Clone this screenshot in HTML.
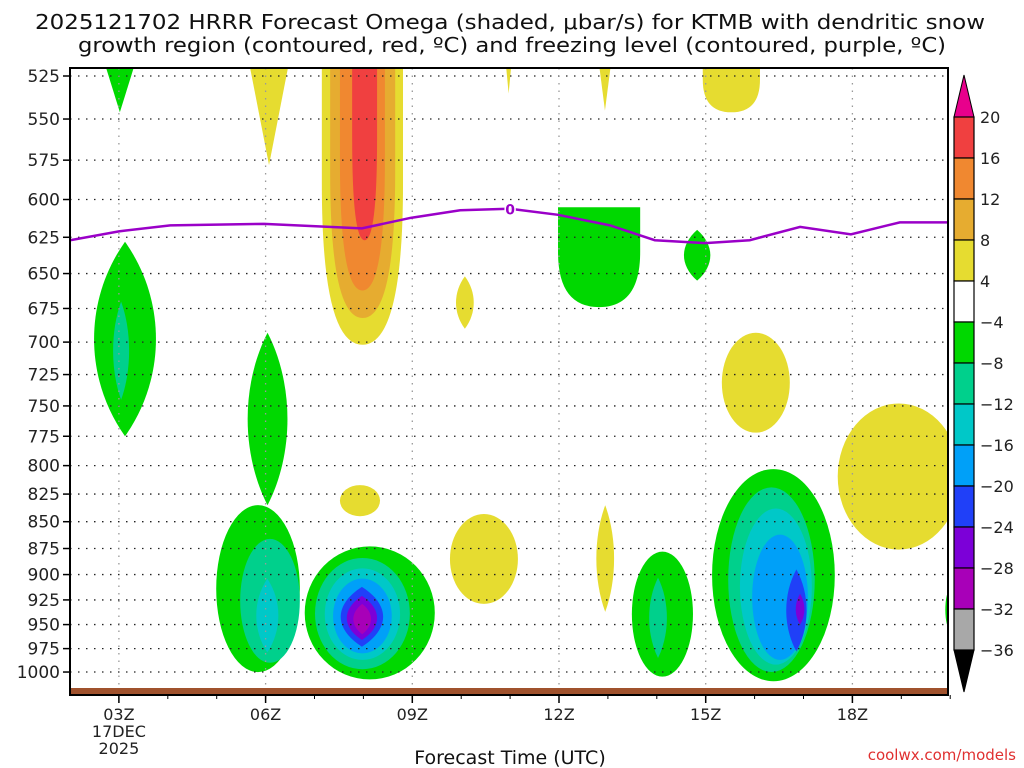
<!DOCTYPE html>
<html><head><meta charset="utf-8"><style>
html,body{margin:0;padding:0;background:#fff;}
svg{display:block;font-family:"DejaVu Sans","Liberation Sans",sans-serif;}
</style></head><body>
<svg id="chart" width="1024" height="768" viewBox="0 0 1024 768">
<text x="510" y="29" text-anchor="middle" font-size="20" fill="#111" textLength="950" lengthAdjust="spacingAndGlyphs">2025121702 HRRR Forecast Omega (shaded, μbar/s) for KTMB with dendritic snow</text>
<text x="512" y="52" text-anchor="middle" font-size="20" fill="#111" textLength="868" lengthAdjust="spacingAndGlyphs">growth region (contoured, red, ºC) and freezing level (contoured, purple, ºC)</text>
<defs><clipPath id="pc"><rect x="70" y="68" width="878" height="627"/></clipPath></defs>
<g id="fills" clip-path="url(#pc)"></g>
<g id="grid"></g>
<g id="frz" clip-path="url(#pc)"></g>
<rect x="70" y="688" width="878" height="7" fill="#a0522d"/>
<rect x="70" y="68" width="878" height="627" fill="none" stroke="#000" stroke-width="2"/>
<g id="axes"></g>
<g id="cbar"></g>
<text x="510" y="764" text-anchor="middle" font-size="19" fill="#111">Forecast Time (UTC)</text>
<text x="1016" y="760" text-anchor="end" font-size="15" fill="#e03030">coolwx.com/models</text>
</svg>
<script>
const levels=[20,16,12,8,4,-4,-8,-12,-16,-20,-24,-28,-32,-36];
const levelColors=['#f04040','#f08830','#e6ac30','#e6dc30','#ffffff','#00d800','#00d08c','#00c8c8','#00a0f8','#2040f8','#7c00d8','#a800b8','#a8a8a8'];
const pLevels=[525,550,575,600,625,650,675,700,725,750,775,800,825,850,875,900,925,950,975,1000];
const hourTicks=[3,6,9,12,15,18];
const hourLabels=['03Z','06Z','09Z','12Z','15Z','18Z'];
// freezing level line
const frzHours=[2,3,4.05,5.97,7.97,8.97,9.98,11,11.98,13.04,13.96,14.99,15.9,16.93,17.97,18.97,19.95];
const frzPres=[627,621,617,616,619,612,607,606,610,617,627,629,627,618,623,615,615];
// blobs
const blobT0=[2.67,5.64,7.15,7.32,7.52,7.77,10.9,12.8,14.94,2.41,2.86,5.58,9.87,11.98,14.52,15.33,17.7,7.52,9.77,12.74,4.99,5.48,5.78,6.8,7.01,7.21,7.38,7.48,7.62,7.77,13.49,13.82,15.13,15.46,15.7,15.95,16.62,16.83,19.9];
const blobT1=[3.37,6.5,8.81,8.65,8.44,8.28,11.04,13.08,16.11,3.84,3.23,6.5,10.28,13.66,15.13,16.72,20.2,8.34,11.16,13.15,6.7,6.7,6.29,9.46,8.95,8.75,8.58,8.46,8.32,8.18,14.74,14.23,17.64,17.23,17.17,17.09,17.09,17.03,20.1];
const blobPTop=[520,520,512,512,512,512,520,520,512,628,670,693,652,605,620,693,748,817,843,835,835,866,904,873,884,894,904,912,921,929,878,903,803,819,838,862,895,919,915];
const blobPBot=[546,578,702,682,662,627,535,545,546,775,745,835,690,674,655,772,876,845,929,937,1000,990,979,1008,997,987,980,973,966,960,1005,985,1010,1000,992,987,978,950,955];
const blobLevel=[5,3,3,2,1,0,3,3,3,5,6,5,3,5,5,3,3,3,3,3,5,6,7,5,6,7,8,9,10,11,5,6,5,6,7,8,9,10,5];
const blobShape=['v','v','u','u','u','u','v','v','u','l','l','l','l','u','l','e','e','e','e','l','e','e','l','e','e','e','e','l','l','l','e','l','e','e','e','e','l','l','e'];

const X=h=>70+(h-2)*48.9;
const Y=p=>76+925*Math.log(p/525);
const NS='http://www.w3.org/2000/svg';
function mk(tag,attrs,parent){const e=document.createElementNS(NS,tag);for(const k in attrs)e.setAttribute(k,attrs[k]);parent.appendChild(e);return e;}
const fills=document.getElementById('fills');
for(let i=0;i<blobT0.length;i++){
 const l=X(blobT0[i]),r=X(blobT1[i]),t=Y(blobPTop[i]),b=Y(blobPBot[i]),cx=(l+r)/2,cy=(t+b)/2;
 let d;
 if(blobShape[i]==='l'){const k=(r-l)*0.3;d=`M${cx},${t} C${r+k*0.3},${t+(b-t)*0.3} ${r+k*0.3},${t+(b-t)*0.7} ${cx},${b} C${l-k*0.3},${t+(b-t)*0.7} ${l-k*0.3},${t+(b-t)*0.3} ${cx},${t}Z`;}
 else if(blobShape[i]==='v'){d=`M${l},${t-10} L${r},${t-10} L${cx},${b}Z`;}
 else if(blobShape[i]==='u'){const m=t+(b-t)*0.45;d=`M${l},${t} L${l},${m} Q${l},${b} ${cx},${b} Q${r},${b} ${r},${m} L${r},${t}Z`;}
 else{const rx=(r-l)/2,ry=(b-t)/2;d=`M${l},${cy} A${rx},${ry} 0 1 0 ${r},${cy} A${rx},${ry} 0 1 0 ${l},${cy}Z`;}
 const e=mk('path',{d:d,fill:levelColors[blobLevel[i]]},fills);
 
 
}
const grid=document.getElementById('grid'),axes=document.getElementById('axes');
pLevels.forEach(p=>{
 const y=Y(p);
 const g=mk('line',{x1:70,x2:948,y1:y,y2:y,stroke:'#222','stroke-width':1.3,'stroke-dasharray':'1.5 6.5'},grid);
 
 
 mk('line',{x1:63,x2:70,y1:y,y2:y,stroke:'#000','stroke-width':1.5},axes);
 const t=mk('text',{x:60,y:y+6,'text-anchor':'end','font-size':17,fill:'#222'},axes);t.textContent=p;
 
 
});
hourTicks.forEach((h,i)=>{
 const x=X(h);
 const g=mk('line',{x1:x,x2:x,y1:68,y2:695,stroke:'#999','stroke-width':1.3,'stroke-dasharray':'1.5 6'},grid);
 
 
 mk('line',{x1:x,x2:x,y1:695,y2:703,stroke:'#000','stroke-width':1.5},axes);
 const t=mk('text',{x:x,y:720,'text-anchor':'middle','font-size':16,fill:'#222'},axes);t.textContent=hourLabels[i];
 
 
});
for(let h=3;h<=20;h++){const x=X(h);mk('line',{x1:x,x2:x,y1:695,y2:699,stroke:'#000'},axes);}
const d1=mk('text',{x:X(3),y:737,'text-anchor':'middle','font-size':16,fill:'#222'},axes);d1.textContent='17DEC';


const d2=mk('text',{x:X(3),y:754,'text-anchor':'middle','font-size':16,fill:'#222'},axes);d2.textContent='2025';


const frz=document.getElementById('frz');
const pl=mk('polyline',{points:frzHours.map((h,i)=>X(h)+','+Y(frzPres[i])).join(' '),fill:'none',stroke:'#9a00c8','stroke-width':2.5},frz);


const fl=mk('text',{x:X(11),y:Y(606)+6,'text-anchor':'middle','font-size':14,'font-weight':'bold',fill:'#9a00c8',stroke:'#fff','stroke-width':3,'paint-order':'stroke'},frz);fl.textContent='0';


// colorbar
const cb=document.getElementById('cbar');const cx0=954,cw=20,ct=117,step=41;
mk('polygon',{points:`${cx0},${ct} ${cx0+cw},${ct} ${cx0+cw/2},${ct-42}`,fill:'#e8008c',stroke:'#000'},cb);
mk('polygon',{points:`${cx0},${ct+13*step} ${cx0+cw},${ct+13*step} ${cx0+cw/2},${ct+13*step+42}`,fill:'#000',stroke:'#000'},cb);
levelColors.forEach((c,i)=>{
 const r=mk('rect',{x:cx0,y:ct+i*step,width:cw,height:step,fill:c,stroke:'#000','stroke-width':1.2},cb);
 
 
});
levels.forEach((v,i)=>{
 const t=mk('text',{x:980,y:ct+i*step+6,'font-size':16,fill:'#222'},cb);t.textContent=v<0?'\u2212'+(-v):v;
 
 
});
</script>
</body></html>
